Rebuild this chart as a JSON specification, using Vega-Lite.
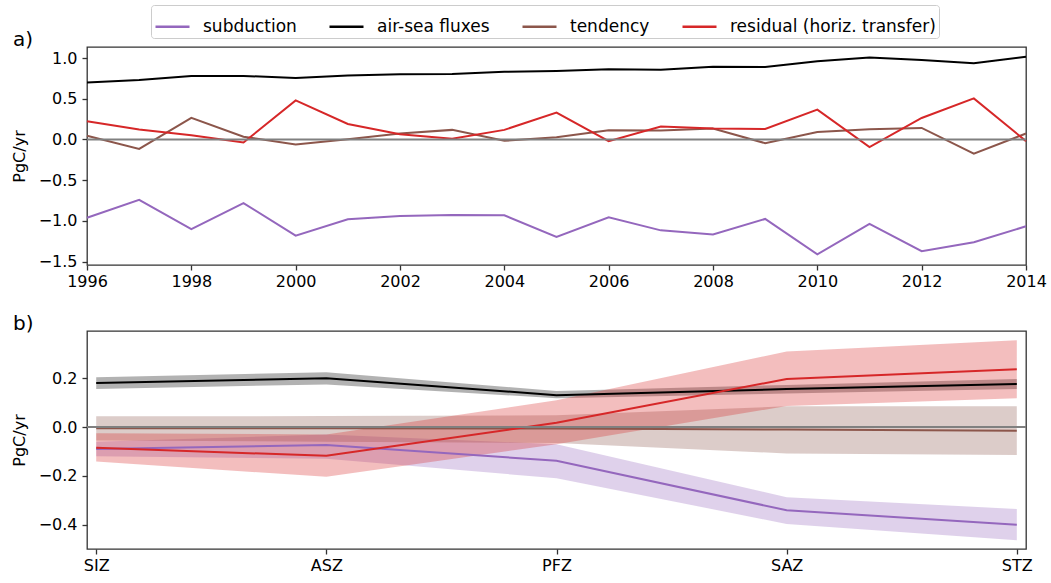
{
  "$schema": "https://vega.github.io/schema/vega-lite/v6.json",
  "padding": {"left": 10, "top": 4, "right": 5, "bottom": 5},
  "background": "white",
  "spacing": 23,
  "config": {
    "font": "DejaVu Sans",
    "view": {"stroke": "#333333", "strokeWidth": 1.3},
    "axis": {"domain": false, "grid": false, "labelFlush": false, "tickColor": "#333333", "tickSize": 5, "tickWidth": 1.3, "labelFont": "DejaVu Sans", "labelFontSize": 16, "labelColor": "#000000", "titleFont": "DejaVu Sans", "titleFontSize": 16, "titleFontWeight": "normal", "titleColor": "#000000"},
    "title": {"font": "DejaVu Sans", "fontSize": 20, "fontWeight": "normal", "color": "#000000", "anchor": "start", "frame": "group", "offset": 0, "dx": -74, "dy": 7, "baseline": "alphabetic"}
  },
  "datasets": {
    "ts": [
      {"year": 1996, "series": "subduction", "value": -0.96},
      {"year": 1997, "series": "subduction", "value": -0.74},
      {"year": 1998, "series": "subduction", "value": -1.10},
      {"year": 1999, "series": "subduction", "value": -0.78},
      {"year": 2000, "series": "subduction", "value": -1.18},
      {"year": 2001, "series": "subduction", "value": -0.98},
      {"year": 2002, "series": "subduction", "value": -0.94},
      {"year": 2003, "series": "subduction", "value": -0.925},
      {"year": 2004, "series": "subduction", "value": -0.93},
      {"year": 2005, "series": "subduction", "value": -1.195},
      {"year": 2006, "series": "subduction", "value": -0.955},
      {"year": 2007, "series": "subduction", "value": -1.115},
      {"year": 2008, "series": "subduction", "value": -1.165},
      {"year": 2009, "series": "subduction", "value": -0.975},
      {"year": 2010, "series": "subduction", "value": -1.41},
      {"year": 2011, "series": "subduction", "value": -1.035},
      {"year": 2012, "series": "subduction", "value": -1.37},
      {"year": 2013, "series": "subduction", "value": -1.26},
      {"year": 2014, "series": "subduction", "value": -1.065},
      {"year": 1996, "series": "air-sea fluxes", "value": 0.70},
      {"year": 1997, "series": "air-sea fluxes", "value": 0.73},
      {"year": 1998, "series": "air-sea fluxes", "value": 0.78},
      {"year": 1999, "series": "air-sea fluxes", "value": 0.78},
      {"year": 2000, "series": "air-sea fluxes", "value": 0.755},
      {"year": 2001, "series": "air-sea fluxes", "value": 0.785},
      {"year": 2002, "series": "air-sea fluxes", "value": 0.80},
      {"year": 2003, "series": "air-sea fluxes", "value": 0.805},
      {"year": 2004, "series": "air-sea fluxes", "value": 0.83},
      {"year": 2005, "series": "air-sea fluxes", "value": 0.84},
      {"year": 2006, "series": "air-sea fluxes", "value": 0.862},
      {"year": 2007, "series": "air-sea fluxes", "value": 0.855},
      {"year": 2008, "series": "air-sea fluxes", "value": 0.893},
      {"year": 2009, "series": "air-sea fluxes", "value": 0.89},
      {"year": 2010, "series": "air-sea fluxes", "value": 0.96},
      {"year": 2011, "series": "air-sea fluxes", "value": 1.005},
      {"year": 2012, "series": "air-sea fluxes", "value": 0.975},
      {"year": 2013, "series": "air-sea fluxes", "value": 0.935},
      {"year": 2014, "series": "air-sea fluxes", "value": 1.015},
      {"year": 1996, "series": "tendency", "value": 0.045},
      {"year": 1997, "series": "tendency", "value": -0.115},
      {"year": 1998, "series": "tendency", "value": 0.265},
      {"year": 1999, "series": "tendency", "value": 0.033},
      {"year": 2000, "series": "tendency", "value": -0.06},
      {"year": 2001, "series": "tendency", "value": 0.004},
      {"year": 2002, "series": "tendency", "value": 0.073},
      {"year": 2003, "series": "tendency", "value": 0.118},
      {"year": 2004, "series": "tendency", "value": -0.016},
      {"year": 2005, "series": "tendency", "value": 0.028},
      {"year": 2006, "series": "tendency", "value": 0.112},
      {"year": 2007, "series": "tendency", "value": 0.11},
      {"year": 2008, "series": "tendency", "value": 0.134},
      {"year": 2009, "series": "tendency", "value": -0.045},
      {"year": 2010, "series": "tendency", "value": 0.093},
      {"year": 2011, "series": "tendency", "value": 0.126},
      {"year": 2012, "series": "tendency", "value": 0.142},
      {"year": 2013, "series": "tendency", "value": -0.175},
      {"year": 2014, "series": "tendency", "value": 0.073},
      {"year": 1996, "series": "residual (horiz. transfer)", "value": 0.224},
      {"year": 1997, "series": "residual (horiz. transfer)", "value": 0.122},
      {"year": 1998, "series": "residual (horiz. transfer)", "value": 0.053},
      {"year": 1999, "series": "residual (horiz. transfer)", "value": -0.037},
      {"year": 2000, "series": "residual (horiz. transfer)", "value": 0.48},
      {"year": 2001, "series": "residual (horiz. transfer)", "value": 0.19},
      {"year": 2002, "series": "residual (horiz. transfer)", "value": 0.065},
      {"year": 2003, "series": "residual (horiz. transfer)", "value": 0.008},
      {"year": 2004, "series": "residual (horiz. transfer)", "value": 0.118},
      {"year": 2005, "series": "residual (horiz. transfer)", "value": 0.33},
      {"year": 2006, "series": "residual (horiz. transfer)", "value": -0.02},
      {"year": 2007, "series": "residual (horiz. transfer)", "value": 0.16},
      {"year": 2008, "series": "residual (horiz. transfer)", "value": 0.134},
      {"year": 2009, "series": "residual (horiz. transfer)", "value": 0.13},
      {"year": 2010, "series": "residual (horiz. transfer)", "value": 0.366},
      {"year": 2011, "series": "residual (horiz. transfer)", "value": -0.093},
      {"year": 2012, "series": "residual (horiz. transfer)", "value": 0.264},
      {"year": 2013, "series": "residual (horiz. transfer)", "value": 0.504},
      {"year": 2014, "series": "residual (horiz. transfer)", "value": -0.02}
    ],
    "zones": [
      {"zone": "SIZ", "series": "subduction", "mid": -0.09, "lo": -0.12, "hi": -0.06},
      {"zone": "ASZ", "series": "subduction", "mid": -0.074, "lo": -0.13, "hi": -0.03},
      {"zone": "PFZ", "series": "subduction", "mid": -0.138, "lo": -0.21, "hi": -0.07},
      {"zone": "SAZ", "series": "subduction", "mid": -0.341, "lo": -0.397, "hi": -0.288},
      {"zone": "STZ", "series": "subduction", "mid": -0.401, "lo": -0.464, "hi": -0.336},
      {"zone": "SIZ", "series": "air-sea fluxes", "mid": 0.181, "lo": 0.156, "hi": 0.204},
      {"zone": "ASZ", "series": "air-sea fluxes", "mid": 0.2, "lo": 0.175, "hi": 0.225},
      {"zone": "PFZ", "series": "air-sea fluxes", "mid": 0.131, "lo": 0.118, "hi": 0.148},
      {"zone": "SAZ", "series": "air-sea fluxes", "mid": 0.156, "lo": 0.138, "hi": 0.173},
      {"zone": "STZ", "series": "air-sea fluxes", "mid": 0.177, "lo": 0.156, "hi": 0.197},
      {"zone": "SIZ", "series": "tendency", "mid": -0.005, "lo": -0.055, "hi": 0.044},
      {"zone": "ASZ", "series": "tendency", "mid": -0.005, "lo": -0.06, "hi": 0.045},
      {"zone": "PFZ", "series": "tendency", "mid": -0.006, "lo": -0.065, "hi": 0.048},
      {"zone": "SAZ", "series": "tendency", "mid": -0.01, "lo": -0.108, "hi": 0.085},
      {"zone": "STZ", "series": "tendency", "mid": -0.015, "lo": -0.114, "hi": 0.085},
      {"zone": "SIZ", "series": "residual (horiz. transfer)", "mid": -0.085, "lo": -0.141, "hi": -0.025},
      {"zone": "ASZ", "series": "residual (horiz. transfer)", "mid": -0.118, "lo": -0.204, "hi": -0.03},
      {"zone": "PFZ", "series": "residual (horiz. transfer)", "mid": 0.018, "lo": -0.07, "hi": 0.11},
      {"zone": "SAZ", "series": "residual (horiz. transfer)", "mid": 0.197, "lo": 0.086, "hi": 0.31},
      {"zone": "STZ", "series": "residual (horiz. transfer)", "mid": 0.237, "lo": 0.118, "hi": 0.356}
    ]
  },
  "vconcat": [
    {
      "width": 939,
      "height": 218,
      "title": {"text": "a)"},
      "layer": [
        {
          "data": {"name": "ts"},
          "mark": {"type": "line", "strokeWidth": 2},
          "encoding": {
            "x": {"field": "year", "type": "quantitative", "scale": {"domain": [1996, 2014], "nice": false, "zero": false}, "axis": {"values": [1996, 1998, 2000, 2002, 2004, 2006, 2008, 2010, 2012, 2014], "format": "d", "title": null, "labelPadding": 3}},
            "y": {"field": "value", "type": "quantitative", "scale": {"domain": [-1.54, 1.135], "nice": false}, "axis": {"values": [-1.5, -1, -0.5, 0, 0.5, 1], "format": ".1f", "title": "PgC/yr", "titlePadding": 11, "labelPadding": 5}},
            "color": {
              "field": "series", "type": "nominal",
              "scale": {"domain": ["subduction", "air-sea fluxes", "tendency", "residual (horiz. transfer)"], "range": ["#9467bd", "#000000", "#8c564b", "#d62728"]},
              "legend": {"orient": "none", "direction": "horizontal", "legendX": 64, "legendY": -42, "title": null, "symbolType": "stroke", "symbolSize": 1156, "symbolStrokeWidth": 2.5, "labelFontSize": 17, "labelFont": "DejaVu Sans", "labelColor": "#000000", "labelLimit": 0, "labelOffset": 12, "columnPadding": 27, "padding": 3, "strokeColor": "#cccccc", "fillColor": "#ffffff", "cornerRadius": 3}
            }
          }
        },
        {
          "data": {"values": [{}]},
          "mark": {"type": "rule", "color": "#808080", "strokeWidth": 2},
          "encoding": {"y": {"datum": 0}}
        }
      ]
    },
    {
      "width": 939,
      "height": 218,
      "title": {"text": "b)"},
      "layer": [
        {
          "data": {"name": "zones"},
          "mark": {"type": "area", "opacity": 0.3},
          "encoding": {
            "x": {"field": "zone", "type": "nominal", "sort": ["SIZ", "ASZ", "PFZ", "SAZ", "STZ"], "scale": {"type": "point", "padding": 0.04}, "axis": {"labelAngle": 0, "title": null, "labelPadding": 3}},
            "y": {"field": "lo", "type": "quantitative", "stack": null, "scale": {"domain": [-0.5, 0.394], "nice": false}, "axis": {"values": [-0.4, -0.2, 0, 0.2], "format": ".1f", "title": "PgC/yr", "titlePadding": 11, "labelPadding": 5}},
            "y2": {"field": "hi"},
            "color": {"field": "series", "type": "nominal", "legend": null}
          }
        },
        {
          "data": {"name": "zones"},
          "mark": {"type": "line", "strokeWidth": 2},
          "encoding": {
            "x": {"field": "zone", "type": "nominal", "sort": ["SIZ", "ASZ", "PFZ", "SAZ", "STZ"]},
            "y": {"field": "mid", "type": "quantitative"},
            "color": {"field": "series", "type": "nominal", "legend": null}
          }
        },
        {
          "data": {"values": [{}]},
          "mark": {"type": "rule", "color": "#808080", "strokeWidth": 2},
          "encoding": {"y": {"datum": 0}}
        }
      ]
    }
  ]
}
